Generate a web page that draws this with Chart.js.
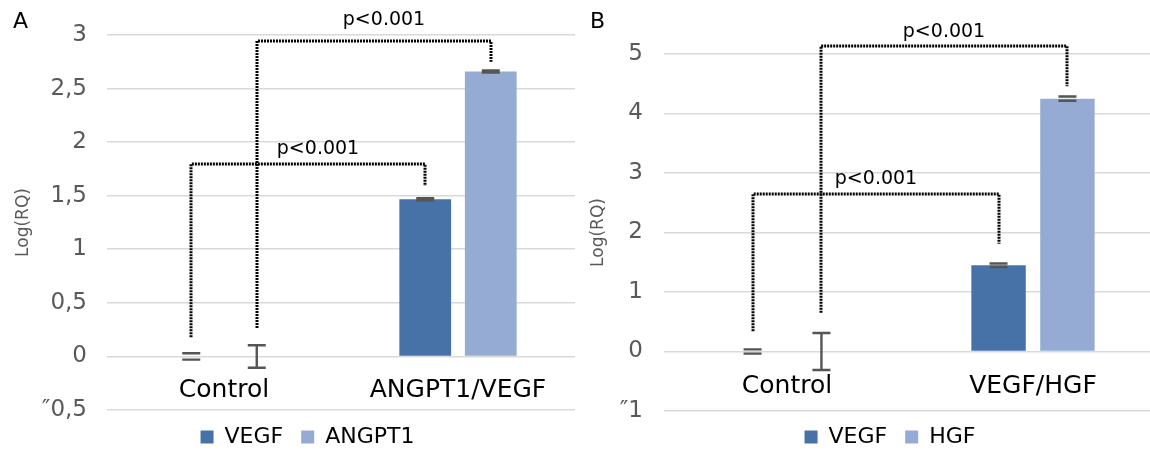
<!DOCTYPE html>
<html>
<head>
<meta charset="utf-8">
<script src="https://cdn.jsdelivr.net/npm/chart.js@4.4.1/dist/chart.umd.min.js"></script>
<style>
  html, body { margin: 0; padding: 0; background: #fff; overflow: hidden; width: 1150px; height: 451px; }
  canvas { position: absolute; top: 0; }
  #chartA { left: 0; }
  #chartB { left: 580px; }
</style>
</head>
<body>
<canvas id="chartA" width="580" height="451"></canvas>
<canvas id="chartB" width="580" height="451"></canvas>
<script>
// ---- panel A data ----
const categoriesA = ['Control', 'ANGPT1/VEGF'];
const vegfA = [0, 1.467];
const angpt1A = [0, 2.66];
const vegfErrA = [0.03, 0.01];
const angpt1ErrA = [0.105, 0.01];
const tickLabelsA = ['\u20330,5', '0', '0,5', '1', '1,5', '2', '2,5', '3'];
// from/to = [category, dataset]; y values in axis units
const bracketsA = [
  { from: [0, 0], to: [1, 0], y0: 0.18, top: 1.80, y1: 1.59, labelY: 1.89, label: 'p<0.001' },
  { from: [0, 1], to: [1, 1], y0: 0.265, top: 2.945, y1: 2.75, labelY: 3.09, label: 'p<0.001' }
];

// ---- panel B data ----
const categoriesB = ['Control', 'VEGF/HGF'];
const vegfB = [0, 1.45];
const hgfB = [0, 4.25];
const vegfErrB = [0.035, 0.03];
const hgfErrB = [0.31, 0.035];
const tickLabelsB = ['\u20331', '0', '1', '2', '3', '4', '5'];
const bracketsB = [
  { from: [0, 0], to: [1, 0], y0: 0.34, top: 2.65, y1: 1.81, labelY: 2.81, label: 'p<0.001' },
  { from: [0, 1], to: [1, 1], y0: 0.65, top: 5.13, y1: 4.46, labelY: 5.29, label: 'p<0.001' }
];

const FONT = "'DejaVu Sans', Verdana, sans-serif";
Chart.defaults.font.family = FONT;

const errorBars = {
  id: 'errorBars',
  afterDatasetsDraw(chart) {
    const ctx = chart.ctx, y = chart.scales.y;
    ctx.save();
    ctx.strokeStyle = '#555';
    ctx.lineWidth = 2.4;
    chart.data.datasets.forEach((ds, i) => {
      chart.getDatasetMeta(i).data.forEach((bar, j) => {
        const top = y.getPixelForValue(ds.data[j] + ds.err[j]);
        const bot = y.getPixelForValue(ds.data[j] - ds.err[j]);
        ctx.beginPath();
        if (bot - top > 10) { ctx.moveTo(bar.x, top); ctx.lineTo(bar.x, bot); }
        ctx.moveTo(bar.x - 9, top); ctx.lineTo(bar.x + 9, top);
        ctx.moveTo(bar.x - 9, bot); ctx.lineTo(bar.x + 9, bot);
        ctx.stroke();
      });
    });
    ctx.restore();
  }
};

const brackets = {
  id: 'brackets',
  afterDraw(chart, args, opts) {
    const ctx = chart.ctx, y = chart.scales.y;
    ctx.save();
    opts.list.forEach(b => {
      const x0 = Math.round(chart.getDatasetMeta(b.from[1]).data[b.from[0]].x);
      const x1 = Math.round(chart.getDatasetMeta(b.to[1]).data[b.to[0]].x);
      const yt = Math.round(y.getPixelForValue(b.top));
      ctx.strokeStyle = '#000';
      ctx.lineWidth = 3;
      ctx.setLineDash([2, 1]);
      ctx.beginPath();
      ctx.moveTo(x0, y.getPixelForValue(b.y0));
      ctx.lineTo(x0, yt);
      ctx.lineTo(x1, yt);
      ctx.lineTo(x1, y.getPixelForValue(b.y1));
      ctx.stroke();
      ctx.setLineDash([]);
      ctx.fillStyle = '#000';
      ctx.font = '19px ' + FONT;
      ctx.textAlign = 'center';
      ctx.textBaseline = 'alphabetic';
      ctx.fillText(b.label, (x0 + x1) / 2 + opts.labelDx, y.getPixelForValue(b.labelY));
    });
    ctx.restore();
  }
};

const panelLabel = {
  id: 'panelLabel',
  afterDraw(chart, args, opts) {
    const ctx = chart.ctx;
    ctx.save();
    ctx.fillStyle = '#000';
    ctx.font = '22px ' + FONT;
    ctx.textAlign = 'left';
    ctx.textBaseline = 'alphabetic';
    ctx.fillText(opts.text, opts.x, opts.y);
    ctx.restore();
  }
};

// nudge the legend under the bars like the original layout
const legendShift = {
  id: 'legendShift',
  afterLayout(chart, args, opts) {
    const l = chart.legend;
    l.left += opts.dx; l.right += opts.dx;
    l.top += opts.dy; l.bottom += opts.dy;
  }
};

function makeChart(id, p) {
  return new Chart(document.getElementById(id), {
    type: 'bar',
    data: {
      labels: p.labels,
      datasets: [
        { label: p.names[0], data: p.s1, err: p.e1, backgroundColor: '#4672a7',
          categoryPercentage: 0.56, barPercentage: 0.79 },
        { label: p.names[1], data: p.s2, err: p.e2, backgroundColor: '#95abd3',
          categoryPercentage: 0.56, barPercentage: 0.79 }
      ]
    },
    options: {
      responsive: false,
      animation: false,
      layout: { padding: { top: p.top, bottom: p.bottom, left: 0, right: p.right } },
      scales: {
        x: {
          position: { y: 0 },
          grid: { display: false },
          border: { display: false },
          ticks: { color: '#000', font: { size: 25 }, padding: p.catPad },
          afterFit(scale) { scale.height = 0; }
        },
        y: {
          min: p.min, max: p.max,
          grid: { color: '#d9d9d9', lineWidth: 1.6, drawTicks: false },
          border: { display: false },
          ticks: {
            stepSize: p.step, color: '#595959', font: { size: 23 }, padding: p.tickPad,
            callback: (v, i) => p.ticks[i]
          },
          title: { display: true, text: 'Log(RQ)', color: '#595959', font: { size: 17 },
                   padding: { top: p.titlePad, bottom: 0 } },
          afterFit(scale) { scale.width = p.axisW; }
        }
      },
      plugins: {
        legend: {
          position: 'bottom',
          labels: { boxWidth: 13, boxHeight: 13, padding: 18, color: '#000', font: { size: 22 } }
        },
        tooltip: { enabled: false },
        brackets: { list: p.brackets, labelDx: p.labelDx },
        panelLabel: { text: p.letter, x: p.letterX, y: 28 },
        legendShift: { dx: p.legDx, dy: p.legDy }
      }
    },
    plugins: [errorBars, brackets, panelLabel, legendShift]
  });
}

makeChart('chartA', {
  labels: categoriesA, names: ['VEGF', 'ANGPT1'],
  s1: vegfA, s2: angpt1A, e1: vegfErrA, e2: angpt1ErrA,
  min: -0.5, max: 3, step: 0.5, ticks: tickLabelsA, brackets: bracketsA,
  top: 35, bottom: -9, right: 5, axisW: 107, tickPad: 20, titlePad: 13, catPad: 11,
  letter: 'A', letterX: 13, legDx: 20, legDy: -2, labelDx: 10
});

makeChart('chartB', {
  labels: categoriesB, names: ['VEGF', 'HGF'],
  s1: vegfB, s2: hgfB, e1: vegfErrB, e2: hgfErrB,
  min: -1, max: 5, step: 1, ticks: tickLabelsB, brackets: bracketsB,
  top: 54, bottom: -10, right: 4, axisW: 84, tickPad: 21, titlePad: 8, catPad: 12,
  letter: 'B', letterX: 10, legDx: 22, legDy: -3, labelDx: 0
});
</script>
</body>
</html>
